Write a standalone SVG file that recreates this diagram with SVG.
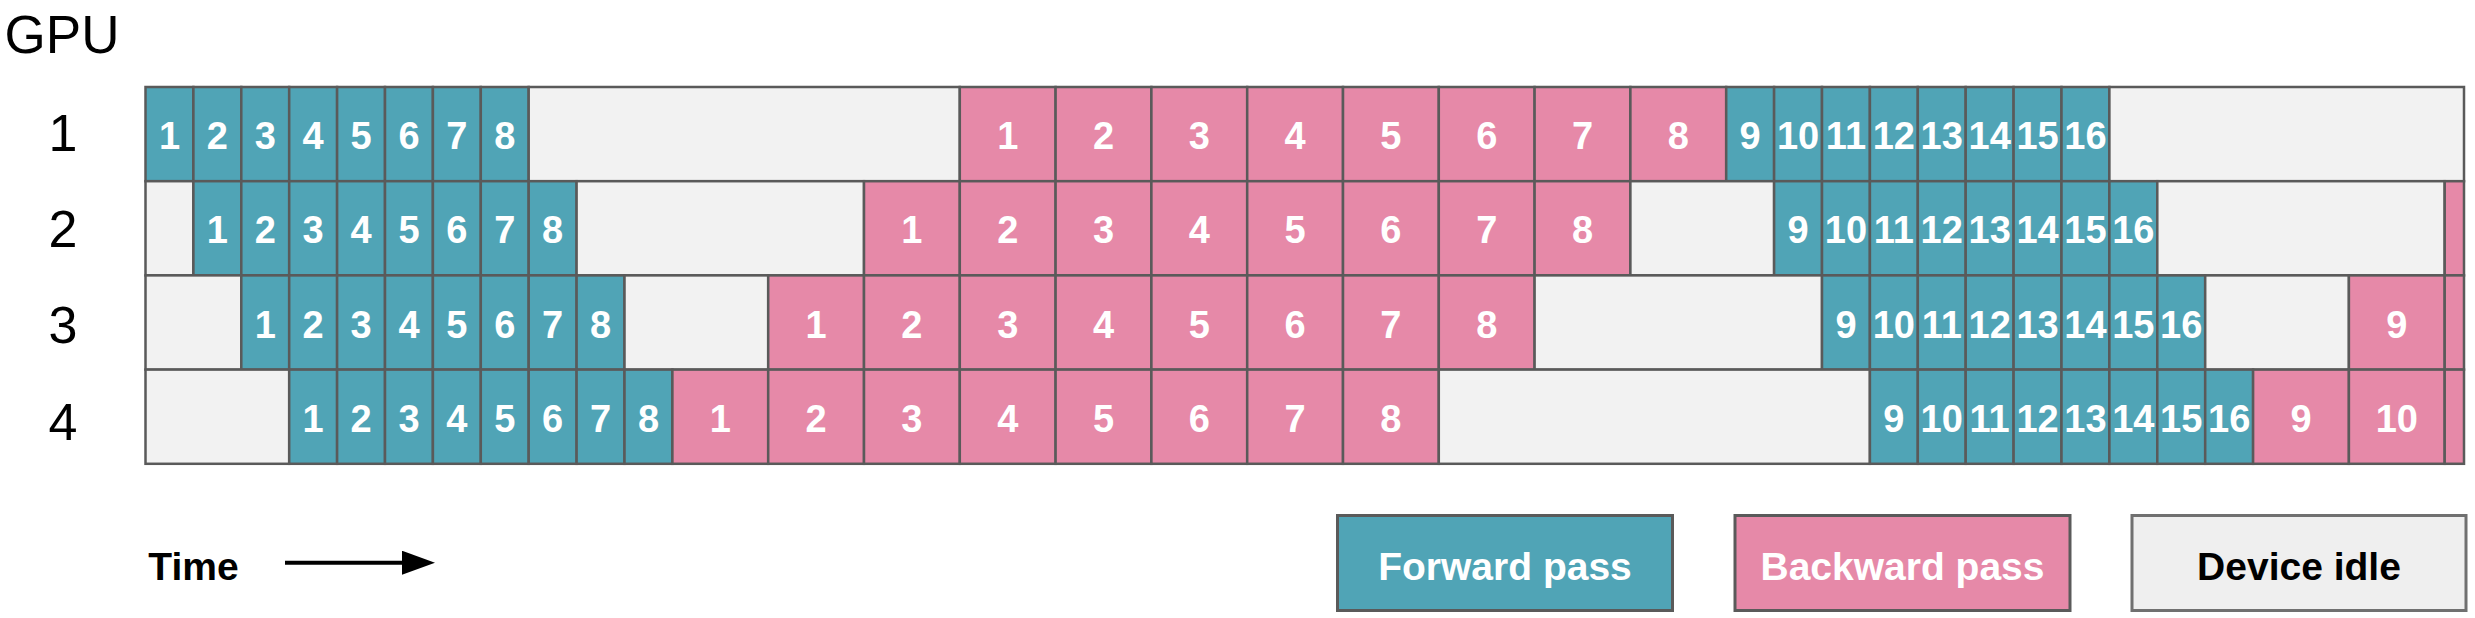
<svg xmlns="http://www.w3.org/2000/svg" width="2475" height="618" viewBox="0 0 2475 618">
<style>
.f{fill:#50a4b6;stroke:#5a5a5a;stroke-width:2.5}
.b{fill:#e689a8;stroke:#5a5a5a;stroke-width:2.5}
.i{fill:#f2f2f2;stroke:#5a5a5a;stroke-width:2.5}
.n{font-family:"Liberation Sans",Arial,sans-serif;font-weight:bold;font-size:38px;fill:#ffffff;text-anchor:middle}
.lbl{font-family:"Liberation Sans",Arial,sans-serif;font-size:52px;fill:#000;text-anchor:middle}
.lg{font-family:"Liberation Sans",Arial,sans-serif;font-weight:bold;font-size:39px;text-anchor:middle}
</style>
<defs>
<marker id="ah" markerUnits="userSpaceOnUse" markerWidth="34" markerHeight="26" refX="18" refY="12" orient="auto" viewBox="0 0 34 26">
<path d="M0,0 L33,12 L0,24 z" fill="#000"/>
</marker>
</defs>
<rect width="2475" height="618" fill="#fff"/>
<g id="labels">
<text x="62" y="53" font-family="Liberation Sans, Arial, sans-serif" font-size="53" fill="#000" text-anchor="middle">GPU</text>
<text class="lbl" x="63" y="151">1</text>
<text class="lbl" x="63" y="247">2</text>
<text class="lbl" x="63" y="343">3</text>
<text class="lbl" x="63" y="440">4</text>
</g>
<!-- GPU 1 -->
<g id="gpu1">
<g id="g1-f1"><rect class="f" x="145.5" y="87" width="47.9" height="94.2"/><text class="n" x="169.45" y="149.1">1</text></g>
<g id="g1-f2"><rect class="f" x="193.4" y="87" width="47.9" height="94.2"/><text class="n" x="217.35" y="149.1">2</text></g>
<g id="g1-f3"><rect class="f" x="241.3" y="87" width="47.9" height="94.2"/><text class="n" x="265.25" y="149.1">3</text></g>
<g id="g1-f4"><rect class="f" x="289.2" y="87" width="47.9" height="94.2"/><text class="n" x="313.15" y="149.1">4</text></g>
<g id="g1-f5"><rect class="f" x="337.1" y="87" width="47.9" height="94.2"/><text class="n" x="361.05" y="149.1">5</text></g>
<g id="g1-f6"><rect class="f" x="385.0" y="87" width="47.9" height="94.2"/><text class="n" x="408.95" y="149.1">6</text></g>
<g id="g1-f7"><rect class="f" x="432.9" y="87" width="47.9" height="94.2"/><text class="n" x="456.85" y="149.1">7</text></g>
<g id="g1-f8"><rect class="f" x="480.8" y="87" width="47.9" height="94.2"/><text class="n" x="504.75" y="149.1">8</text></g>
<g id="g1-idle1"><rect class="i" x="528.7" y="87" width="431.1" height="94.2"/></g>
<g id="g1-b1"><rect class="b" x="959.8" y="87" width="95.8" height="94.2"/><text class="n" x="1007.7" y="149.1">1</text></g>
<g id="g1-b2"><rect class="b" x="1055.6" y="87" width="95.8" height="94.2"/><text class="n" x="1103.5" y="149.1">2</text></g>
<g id="g1-b3"><rect class="b" x="1151.4" y="87" width="95.8" height="94.2"/><text class="n" x="1199.3" y="149.1">3</text></g>
<g id="g1-b4"><rect class="b" x="1247.2" y="87" width="95.8" height="94.2"/><text class="n" x="1295.1" y="149.1">4</text></g>
<g id="g1-b5"><rect class="b" x="1343.0" y="87" width="95.8" height="94.2"/><text class="n" x="1390.9" y="149.1">5</text></g>
<g id="g1-b6"><rect class="b" x="1438.8" y="87" width="95.8" height="94.2"/><text class="n" x="1486.7" y="149.1">6</text></g>
<g id="g1-b7"><rect class="b" x="1534.6" y="87" width="95.8" height="94.2"/><text class="n" x="1582.5" y="149.1">7</text></g>
<g id="g1-b8"><rect class="b" x="1630.4" y="87" width="95.8" height="94.2"/><text class="n" x="1678.3" y="149.1">8</text></g>
<g id="g1-f9"><rect class="f" x="1726.2" y="87" width="47.9" height="94.2"/><text class="n" x="1750.15" y="149.1">9</text></g>
<g id="g1-f10"><rect class="f" x="1774.1" y="87" width="47.9" height="94.2"/><text class="n" x="1798.05" y="149.1">10</text></g>
<g id="g1-f11"><rect class="f" x="1822.0" y="87" width="47.9" height="94.2"/><text class="n" x="1845.95" y="149.1">11</text></g>
<g id="g1-f12"><rect class="f" x="1869.9" y="87" width="47.9" height="94.2"/><text class="n" x="1893.85" y="149.1">12</text></g>
<g id="g1-f13"><rect class="f" x="1917.8" y="87" width="47.9" height="94.2"/><text class="n" x="1941.75" y="149.1">13</text></g>
<g id="g1-f14"><rect class="f" x="1965.7" y="87" width="47.9" height="94.2"/><text class="n" x="1989.65" y="149.1">14</text></g>
<g id="g1-f15"><rect class="f" x="2013.6" y="87" width="47.9" height="94.2"/><text class="n" x="2037.55" y="149.1">15</text></g>
<g id="g1-f16"><rect class="f" x="2061.5" y="87" width="47.9" height="94.2"/><text class="n" x="2085.45" y="149.1">16</text></g>
<g id="g1-idle2"><rect class="i" x="2109.4" y="87" width="354.6" height="94.2"/></g>
</g>
<!-- GPU 2 -->
<g id="gpu2">
<g id="g2-idle0"><rect class="i" x="145.5" y="181.2" width="47.9" height="94.2"/></g>
<g id="g2-f1"><rect class="f" x="193.4" y="181.2" width="47.9" height="94.2"/><text class="n" x="217.35" y="243.3">1</text></g>
<g id="g2-f2"><rect class="f" x="241.3" y="181.2" width="47.9" height="94.2"/><text class="n" x="265.25" y="243.3">2</text></g>
<g id="g2-f3"><rect class="f" x="289.2" y="181.2" width="47.9" height="94.2"/><text class="n" x="313.15" y="243.3">3</text></g>
<g id="g2-f4"><rect class="f" x="337.1" y="181.2" width="47.9" height="94.2"/><text class="n" x="361.05" y="243.3">4</text></g>
<g id="g2-f5"><rect class="f" x="385.0" y="181.2" width="47.9" height="94.2"/><text class="n" x="408.95" y="243.3">5</text></g>
<g id="g2-f6"><rect class="f" x="432.9" y="181.2" width="47.9" height="94.2"/><text class="n" x="456.85" y="243.3">6</text></g>
<g id="g2-f7"><rect class="f" x="480.8" y="181.2" width="47.9" height="94.2"/><text class="n" x="504.75" y="243.3">7</text></g>
<g id="g2-f8"><rect class="f" x="528.7" y="181.2" width="47.9" height="94.2"/><text class="n" x="552.65" y="243.3">8</text></g>
<g id="g2-idle1"><rect class="i" x="576.6" y="181.2" width="287.4" height="94.2"/></g>
<g id="g2-b1"><rect class="b" x="864.0" y="181.2" width="95.8" height="94.2"/><text class="n" x="911.9" y="243.3">1</text></g>
<g id="g2-b2"><rect class="b" x="959.8" y="181.2" width="95.8" height="94.2"/><text class="n" x="1007.7" y="243.3">2</text></g>
<g id="g2-b3"><rect class="b" x="1055.6" y="181.2" width="95.8" height="94.2"/><text class="n" x="1103.5" y="243.3">3</text></g>
<g id="g2-b4"><rect class="b" x="1151.4" y="181.2" width="95.8" height="94.2"/><text class="n" x="1199.3" y="243.3">4</text></g>
<g id="g2-b5"><rect class="b" x="1247.2" y="181.2" width="95.8" height="94.2"/><text class="n" x="1295.1" y="243.3">5</text></g>
<g id="g2-b6"><rect class="b" x="1343.0" y="181.2" width="95.8" height="94.2"/><text class="n" x="1390.9" y="243.3">6</text></g>
<g id="g2-b7"><rect class="b" x="1438.8" y="181.2" width="95.8" height="94.2"/><text class="n" x="1486.7" y="243.3">7</text></g>
<g id="g2-b8"><rect class="b" x="1534.6" y="181.2" width="95.8" height="94.2"/><text class="n" x="1582.5" y="243.3">8</text></g>
<g id="g2-idle2"><rect class="i" x="1630.4" y="181.2" width="143.7" height="94.2"/></g>
<g id="g2-f9"><rect class="f" x="1774.1" y="181.2" width="47.9" height="94.2"/><text class="n" x="1798.05" y="243.3">9</text></g>
<g id="g2-f10"><rect class="f" x="1822.0" y="181.2" width="47.9" height="94.2"/><text class="n" x="1845.95" y="243.3">10</text></g>
<g id="g2-f11"><rect class="f" x="1869.9" y="181.2" width="47.9" height="94.2"/><text class="n" x="1893.85" y="243.3">11</text></g>
<g id="g2-f12"><rect class="f" x="1917.8" y="181.2" width="47.9" height="94.2"/><text class="n" x="1941.75" y="243.3">12</text></g>
<g id="g2-f13"><rect class="f" x="1965.7" y="181.2" width="47.9" height="94.2"/><text class="n" x="1989.65" y="243.3">13</text></g>
<g id="g2-f14"><rect class="f" x="2013.6" y="181.2" width="47.9" height="94.2"/><text class="n" x="2037.55" y="243.3">14</text></g>
<g id="g2-f15"><rect class="f" x="2061.5" y="181.2" width="47.9" height="94.2"/><text class="n" x="2085.45" y="243.3">15</text></g>
<g id="g2-f16"><rect class="f" x="2109.4" y="181.2" width="47.9" height="94.2"/><text class="n" x="2133.35" y="243.3">16</text></g>
<g id="g2-idle3"><rect class="i" x="2157.3" y="181.2" width="287.4" height="94.2"/></g>
<g id="g2-b9"><rect class="b" x="2444.7" y="181.2" width="19.3" height="94.2"/></g>
</g>
<!-- GPU 3 -->
<g id="gpu3">
<g id="g3-idle0"><rect class="i" x="145.5" y="275.4" width="95.8" height="94.2"/></g>
<g id="g3-f1"><rect class="f" x="241.3" y="275.4" width="47.9" height="94.2"/><text class="n" x="265.25" y="337.5">1</text></g>
<g id="g3-f2"><rect class="f" x="289.2" y="275.4" width="47.9" height="94.2"/><text class="n" x="313.15" y="337.5">2</text></g>
<g id="g3-f3"><rect class="f" x="337.1" y="275.4" width="47.9" height="94.2"/><text class="n" x="361.05" y="337.5">3</text></g>
<g id="g3-f4"><rect class="f" x="385.0" y="275.4" width="47.9" height="94.2"/><text class="n" x="408.95" y="337.5">4</text></g>
<g id="g3-f5"><rect class="f" x="432.9" y="275.4" width="47.9" height="94.2"/><text class="n" x="456.85" y="337.5">5</text></g>
<g id="g3-f6"><rect class="f" x="480.8" y="275.4" width="47.9" height="94.2"/><text class="n" x="504.75" y="337.5">6</text></g>
<g id="g3-f7"><rect class="f" x="528.7" y="275.4" width="47.9" height="94.2"/><text class="n" x="552.65" y="337.5">7</text></g>
<g id="g3-f8"><rect class="f" x="576.6" y="275.4" width="47.9" height="94.2"/><text class="n" x="600.55" y="337.5">8</text></g>
<g id="g3-idle1"><rect class="i" x="624.5" y="275.4" width="143.7" height="94.2"/></g>
<g id="g3-b1"><rect class="b" x="768.2" y="275.4" width="95.8" height="94.2"/><text class="n" x="816.1" y="337.5">1</text></g>
<g id="g3-b2"><rect class="b" x="864.0" y="275.4" width="95.8" height="94.2"/><text class="n" x="911.9" y="337.5">2</text></g>
<g id="g3-b3"><rect class="b" x="959.8" y="275.4" width="95.8" height="94.2"/><text class="n" x="1007.7" y="337.5">3</text></g>
<g id="g3-b4"><rect class="b" x="1055.6" y="275.4" width="95.8" height="94.2"/><text class="n" x="1103.5" y="337.5">4</text></g>
<g id="g3-b5"><rect class="b" x="1151.4" y="275.4" width="95.8" height="94.2"/><text class="n" x="1199.3" y="337.5">5</text></g>
<g id="g3-b6"><rect class="b" x="1247.2" y="275.4" width="95.8" height="94.2"/><text class="n" x="1295.1" y="337.5">6</text></g>
<g id="g3-b7"><rect class="b" x="1343.0" y="275.4" width="95.8" height="94.2"/><text class="n" x="1390.9" y="337.5">7</text></g>
<g id="g3-b8"><rect class="b" x="1438.8" y="275.4" width="95.8" height="94.2"/><text class="n" x="1486.7" y="337.5">8</text></g>
<g id="g3-idle2"><rect class="i" x="1534.6" y="275.4" width="287.4" height="94.2"/></g>
<g id="g3-f9"><rect class="f" x="1822.0" y="275.4" width="47.9" height="94.2"/><text class="n" x="1845.95" y="337.5">9</text></g>
<g id="g3-f10"><rect class="f" x="1869.9" y="275.4" width="47.9" height="94.2"/><text class="n" x="1893.85" y="337.5">10</text></g>
<g id="g3-f11"><rect class="f" x="1917.8" y="275.4" width="47.9" height="94.2"/><text class="n" x="1941.75" y="337.5">11</text></g>
<g id="g3-f12"><rect class="f" x="1965.7" y="275.4" width="47.9" height="94.2"/><text class="n" x="1989.65" y="337.5">12</text></g>
<g id="g3-f13"><rect class="f" x="2013.6" y="275.4" width="47.9" height="94.2"/><text class="n" x="2037.55" y="337.5">13</text></g>
<g id="g3-f14"><rect class="f" x="2061.5" y="275.4" width="47.9" height="94.2"/><text class="n" x="2085.45" y="337.5">14</text></g>
<g id="g3-f15"><rect class="f" x="2109.4" y="275.4" width="47.9" height="94.2"/><text class="n" x="2133.35" y="337.5">15</text></g>
<g id="g3-f16"><rect class="f" x="2157.3" y="275.4" width="47.9" height="94.2"/><text class="n" x="2181.25" y="337.5">16</text></g>
<g id="g3-idle3"><rect class="i" x="2205.2" y="275.4" width="143.7" height="94.2"/></g>
<g id="g3-b9"><rect class="b" x="2348.9" y="275.4" width="95.8" height="94.2"/><text class="n" x="2396.8" y="337.5">9</text></g>
<g id="g3-b10"><rect class="b" x="2444.7" y="275.4" width="19.3" height="94.2"/></g>
</g>
<!-- GPU 4 -->
<g id="gpu4">
<g id="g4-idle0"><rect class="i" x="145.5" y="369.6" width="143.7" height="94.2"/></g>
<g id="g4-f1"><rect class="f" x="289.2" y="369.6" width="47.9" height="94.2"/><text class="n" x="313.15" y="431.7">1</text></g>
<g id="g4-f2"><rect class="f" x="337.1" y="369.6" width="47.9" height="94.2"/><text class="n" x="361.05" y="431.7">2</text></g>
<g id="g4-f3"><rect class="f" x="385.0" y="369.6" width="47.9" height="94.2"/><text class="n" x="408.95" y="431.7">3</text></g>
<g id="g4-f4"><rect class="f" x="432.9" y="369.6" width="47.9" height="94.2"/><text class="n" x="456.85" y="431.7">4</text></g>
<g id="g4-f5"><rect class="f" x="480.8" y="369.6" width="47.9" height="94.2"/><text class="n" x="504.75" y="431.7">5</text></g>
<g id="g4-f6"><rect class="f" x="528.7" y="369.6" width="47.9" height="94.2"/><text class="n" x="552.65" y="431.7">6</text></g>
<g id="g4-f7"><rect class="f" x="576.6" y="369.6" width="47.9" height="94.2"/><text class="n" x="600.55" y="431.7">7</text></g>
<g id="g4-f8"><rect class="f" x="624.5" y="369.6" width="47.9" height="94.2"/><text class="n" x="648.45" y="431.7">8</text></g>
<g id="g4-b1"><rect class="b" x="672.4" y="369.6" width="95.8" height="94.2"/><text class="n" x="720.3" y="431.7">1</text></g>
<g id="g4-b2"><rect class="b" x="768.2" y="369.6" width="95.8" height="94.2"/><text class="n" x="816.1" y="431.7">2</text></g>
<g id="g4-b3"><rect class="b" x="864.0" y="369.6" width="95.8" height="94.2"/><text class="n" x="911.9" y="431.7">3</text></g>
<g id="g4-b4"><rect class="b" x="959.8" y="369.6" width="95.8" height="94.2"/><text class="n" x="1007.7" y="431.7">4</text></g>
<g id="g4-b5"><rect class="b" x="1055.6" y="369.6" width="95.8" height="94.2"/><text class="n" x="1103.5" y="431.7">5</text></g>
<g id="g4-b6"><rect class="b" x="1151.4" y="369.6" width="95.8" height="94.2"/><text class="n" x="1199.3" y="431.7">6</text></g>
<g id="g4-b7"><rect class="b" x="1247.2" y="369.6" width="95.8" height="94.2"/><text class="n" x="1295.1" y="431.7">7</text></g>
<g id="g4-b8"><rect class="b" x="1343.0" y="369.6" width="95.8" height="94.2"/><text class="n" x="1390.9" y="431.7">8</text></g>
<g id="g4-idle1"><rect class="i" x="1438.8" y="369.6" width="431.1" height="94.2"/></g>
<g id="g4-f9"><rect class="f" x="1869.9" y="369.6" width="47.9" height="94.2"/><text class="n" x="1893.85" y="431.7">9</text></g>
<g id="g4-f10"><rect class="f" x="1917.8" y="369.6" width="47.9" height="94.2"/><text class="n" x="1941.75" y="431.7">10</text></g>
<g id="g4-f11"><rect class="f" x="1965.7" y="369.6" width="47.9" height="94.2"/><text class="n" x="1989.65" y="431.7">11</text></g>
<g id="g4-f12"><rect class="f" x="2013.6" y="369.6" width="47.9" height="94.2"/><text class="n" x="2037.55" y="431.7">12</text></g>
<g id="g4-f13"><rect class="f" x="2061.5" y="369.6" width="47.9" height="94.2"/><text class="n" x="2085.45" y="431.7">13</text></g>
<g id="g4-f14"><rect class="f" x="2109.4" y="369.6" width="47.9" height="94.2"/><text class="n" x="2133.35" y="431.7">14</text></g>
<g id="g4-f15"><rect class="f" x="2157.3" y="369.6" width="47.9" height="94.2"/><text class="n" x="2181.25" y="431.7">15</text></g>
<g id="g4-f16"><rect class="f" x="2205.2" y="369.6" width="47.9" height="94.2"/><text class="n" x="2229.15" y="431.7">16</text></g>
<g id="g4-b9"><rect class="b" x="2253.1" y="369.6" width="95.8" height="94.2"/><text class="n" x="2301.0" y="431.7">9</text></g>
<g id="g4-b10"><rect class="b" x="2348.9" y="369.6" width="95.8" height="94.2"/><text class="n" x="2396.8" y="431.7">10</text></g>
<g id="g4-b11"><rect class="b" x="2444.7" y="369.6" width="19.3" height="94.2"/></g>
</g>
<!-- Legend -->
<g id="time-label"><text class="lg" x="193.5" y="579.5" fill="#000">Time</text></g>
<g id="legend-forward"><rect class="f" x="1337.5" y="515.5" width="335" height="95" style="stroke-width:3"/><text class="lg" x="1505" y="579.5" fill="#fff">Forward pass</text></g>
<g id="legend-backward"><rect class="b" x="1735" y="515.5" width="335" height="95" style="stroke-width:3"/><text class="lg" x="1902.5" y="579.5" fill="#fff">Backward pass</text></g>
<g id="legend-idle"><rect class="i" x="2132" y="515.5" width="334" height="95" style="stroke:#707070;stroke-width:3;fill:#efefef"/><text class="lg" x="2299" y="579.5" fill="#000">Device idle</text></g>
<g id="connectors">
<line x1="285" y1="562.7" x2="420" y2="562.7" stroke="#000" stroke-width="4" marker-end="url(#ah)"/>
</g>
</svg>
